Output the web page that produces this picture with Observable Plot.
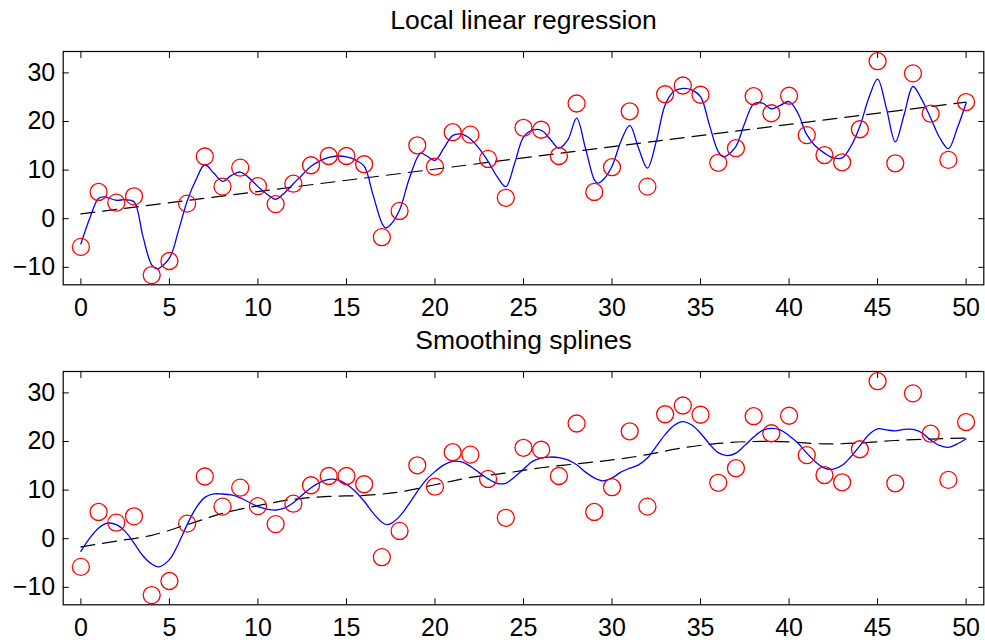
<!DOCTYPE html>
<html>
<head>
<meta charset="utf-8">
<script src="https://cdn.jsdelivr.net/npm/d3@7"></script>
<script src="https://cdn.jsdelivr.net/npm/@observablehq/plot@0.6"></script>
<style>
  body { margin: 0; background: #fff; }
  #chart { width: 985px; height: 640px; }
  #chart svg { display: block; }
</style>
</head>
<body>
<div id="chart"></div>
<script>
// ---- data ----
const titles = ["Local linear regression", "Smoothing splines"];
const xTicks = [0, 5, 10, 15, 20, 25, 30, 35, 40, 45, 50];
const yTicks = [-10, 0, 10, 20, 30];

// observed points (same in both panels)
const obsX = d3.range(0, 51);
const obsY = [-5.8, 5.5, 3.3, 4.6, -11.6, -8.7, 3.1, 12.8, 6.6, 10.5,
  6.7, 3.0, 7.2, 11.0, 12.9, 12.9, 11.2, -3.8, 1.6, 15.1,
  10.7, 17.8, 17.3, 12.3, 4.3, 18.7, 18.3, 12.9, 23.7, 5.5,
  10.6, 22.1, 6.6, 25.6, 27.4, 25.5, 11.5, 14.5, 25.2, 21.7,
  25.3, 17.2, 13.1, 11.6, 18.4, 32.4, 11.4, 29.9, 21.6, 12.1, 24.0];

// top panel: local linear regression curve (blue)
const loclinX = [0,0.5,1,1.3,2,2.5,3,3.5,4,4.3,5,5.5,6,6.5,7,7.5,8,8.5,9,9.5,10,10.5,11,11.5,12,12.5,13,13.5,14,14.5,15,15.5,16,16.5,17,17.2,17.5,18,18.5,19,19.2,19.5,20,20.5,21,21.5,22,22.5,23,23.5,24,24.5,25,25.5,26,26.5,27,27.5,28,28.5,29,29.2,29.5,30,30.5,31,31.5,32,32.5,33,33.5,34,34.5,35,35.5,36,36.3,36.5,37,37.5,38,38.5,39,39.5,40,40.5,41,41.5,42,42.5,43,43.5,44,44.5,45,45.5,46,46.5,47,47.5,48,48.5,49,49.5,50];
const loclinY = [-5.2,0.1,4.2,4.5,3.8,3.9,3.5,-3.6,-9.5,-10.3,-8.1,-2.6,3.6,8.0,11.1,9.4,7.7,8.9,9.6,8.4,6.6,5.1,4.0,5.3,7.2,9.0,10.8,11.9,12.6,12.9,12.7,12.1,10.8,4.9,-0.9,-1.9,-1.2,1.8,7.7,12.6,13.5,13.0,12.0,14.5,17.1,17.4,16.4,14.4,11.8,8.7,6.6,11.4,16.8,18.2,18.2,16.4,14.5,16.2,20.7,14.5,8.0,7.3,8.0,10.8,15.9,19.2,14.5,10.4,15.9,23.4,26.2,26.8,26.5,25.1,19.3,13.8,12.7,13.0,14.9,19.7,23.6,23.8,22.6,23.3,24.1,21.7,17.3,14.9,13.5,12.5,12.5,14.9,19.0,24.8,28.7,22.7,15.8,21.4,27.2,24.5,20.7,16.7,14.4,18.6,23.8];

// top panel: linear fit (dashed)
const linX = [0, 50];
const linY = [1.0, 24.0];

// bottom panel: smoothing spline (blue)
const splineX = [0,0.5,1,1.5,2,2.5,3,3.5,4,4.4,5,5.5,6,6.5,7,7.5,8,8.5,9,9.5,10,10.5,11,11.5,12,12.5,13,13.5,14,14.5,15,15.5,16,16.5,17,17.3,17.5,18,18.5,19,19.5,20,20.5,21,21.5,22,22.5,23,23.5,24,24.5,25,25.5,26,26.5,27,27.5,28,28.5,29,29.5,30,30.5,31,31.5,32,32.5,33,33.5,34,34.5,35,35.5,36,36.5,37,37.5,38,38.5,39,39.5,40,40.5,41,41.5,42,42.5,43,43.5,44,44.5,45,45.5,46,46.5,47,47.5,48,48.5,49,49.5,50];
const splineY = [-2.6,0.1,2.2,3.2,2.9,1.5,-0.9,-3.5,-5.2,-5.8,-4.3,-1.1,2.9,6.3,8.5,9.2,9.2,9.0,8.4,7.5,6.6,6.1,5.9,6.3,7.4,9.0,10.5,11.6,12.2,12.1,11.2,9.7,7.7,5.3,3.4,2.9,3.1,4.6,7.0,9.7,12.1,13.8,15.2,15.9,15.8,14.9,13.6,12.3,11.4,11.4,12.7,14.3,15.9,16.6,16.8,16.7,16.2,15.2,13.7,12.5,11.9,12.5,13.7,14.5,15.2,16.6,19.0,21.4,23.3,24.1,23.4,21.7,19.5,17.7,17.1,17.6,19.2,20.9,22.3,22.7,22.4,21.2,19.7,17.6,15.8,14.5,14.3,15.1,16.9,19.1,21.4,22.6,22.4,22.2,22.5,22.5,21.8,20.3,19.2,18.8,19.5,20.5];

// bottom panel: smoother spline (dashed)
const smoothX = [0,2,4,6,8,10,12,14,16,18,20,22,24,26,28,30,32,34,36,38,40,42,44,46,48,50];
const smoothY = [-1.7,-0.5,0.7,2.9,5.2,6.8,8.1,8.7,8.9,9.6,11.1,12.6,13.5,14.6,15.4,16.2,17.3,18.7,19.6,20.0,19.9,19.5,19.7,20.2,20.5,20.7];

// ---- build ----
const zip = (xs, ys) => xs.map((x, i) => ({x, y: ys[i]}));
const obs = zip(obsX, obsY);

function panel(title, solid, dashed, dashedCurve) {
  return Plot.plot({
    width: 985,
    height: 320,
    marginTop: 51,
    marginBottom: 35.7,
    marginLeft: 62.7,
    marginRight: 1.7,
    style: {fontFamily: "'Liberation Sans', Arial, sans-serif", fontSize: "25px", color: "#000", background: "#fff", overflow: "visible"},
    x: {domain: [-1, 51]},
    y: {domain: [-13.6, 34.4]},
    marks: [
      Plot.frame({stroke: "#000", strokeWidth: 1.2}),
      Plot.axisX(xTicks, {anchor: "bottom", tickSize: -6, tickPadding: 19, stroke: "#000", fill: "#000", label: null, fontSize: 25}),
      Plot.axisX(xTicks, {anchor: "top", tickSize: -6, tickFormat: () => "", stroke: "#000", label: null}),
      Plot.axisY(yTicks, {anchor: "left", tickSize: -6, tickPadding: 14, stroke: "#000", fill: "#000", label: null, fontSize: 25}),
      Plot.axisY(yTicks, {anchor: "right", tickSize: -6, tickFormat: () => "", stroke: "#000", label: null}),
      Plot.line(dashed, {x: "x", y: "y", stroke: "#000", strokeWidth: 1.2, strokeDasharray: "14,8", curve: dashedCurve}),
      Plot.line(solid, {x: "x", y: "y", stroke: "#0000ff", strokeWidth: 1.3, curve: "catmull-rom"}),
      Plot.dot(obs, {x: "x", y: "y", r: 8.5, stroke: "#ff0000", strokeWidth: 1.3, fill: "none"}),
      Plot.text([title], {frameAnchor: "top", dy: -31, lineAnchor: "middle", fontSize: 26.5, fill: "#000"})
    ]
  });
}

const chart = document.getElementById("chart");
chart.append(panel(titles[0], zip(loclinX, loclinY), zip(linX, linY), "linear"));
chart.append(panel(titles[1], zip(splineX, splineY), zip(smoothX, smoothY), "catmull-rom"));
</script>
</body>
</html>
